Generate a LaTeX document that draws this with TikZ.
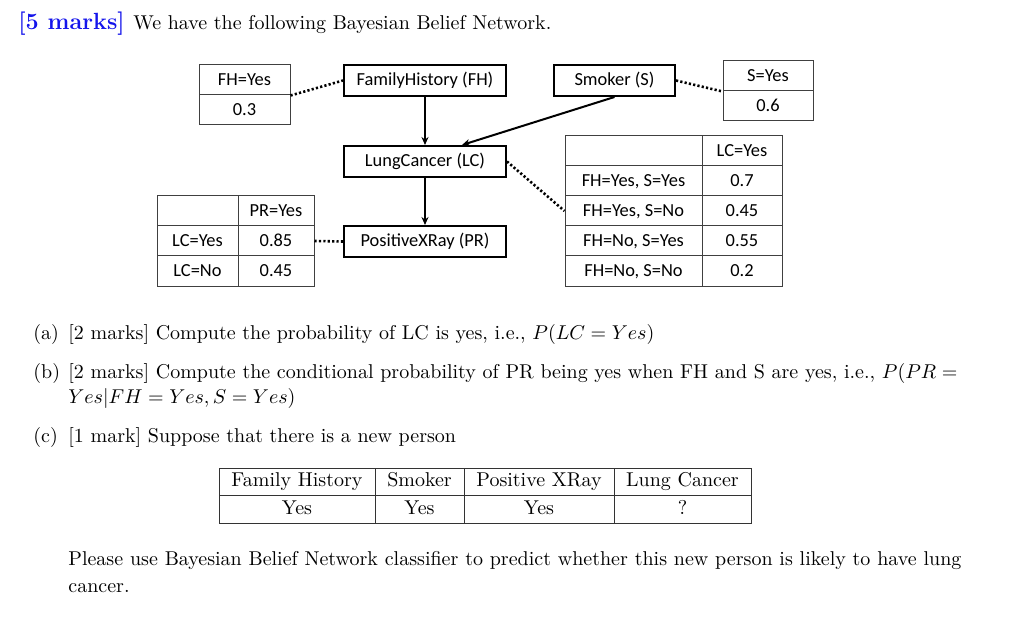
\documentclass[tikz,border=0pt]{standalone}
\usepackage{fontspec}
\newfontfamily\carlito{Carlito}
\usetikzlibrary{arrows.meta}
\definecolor{markblue}{RGB}{20,20,235}
\begin{document}
\begin{tikzpicture}[x=0.5pt,y=-0.5pt,
  txt/.style={anchor=base west,inner sep=0pt,font=\fontsize{10pt}{13pt}\selectfont},
  netbox/.style={draw,line width=1pt,inner sep=0pt,minimum height=15.5pt,text height=7.4pt,text depth=2pt,font=\carlito\fontsize{9.2pt}{11pt}\selectfont},
  cell/.style={draw=black!75,line width=0.5pt,inner sep=0pt,minimum height=15pt,text height=7.6pt,text depth=2pt,font=\carlito\fontsize{9.2pt}{11pt}\selectfont},
  tcell/.style={draw=black!80,line width=0.5pt,inner sep=0pt,text height=7.8pt,text depth=2.4pt,font=\fontsize{10pt}{13pt}\selectfont},
  arr/.style={line width=1pt,-{Stealth[length=4pt,width=3.5pt]}},
  dots/.style={line width=1.3pt,dash pattern=on 1.1pt off 1.1pt}
]
\useasboundingbox (0,0) rectangle (1024,626);
% title
\node[anchor=base west,inner sep=0pt,font=\fontsize{11.7pt}{14pt}\selectfont\bfseries,text=markblue] (t0) at (18,30) {[5 marks]};
\node[txt] (t1) at (133,30) {We have the following Bayesian Belief Network.};
% network nodes
\node[netbox,minimum width=81pt] (fh) at (425,80.5) {FamilyHistory (FH)};
\node[netbox,minimum width=60.5pt] (sm) at (614.5,80.5) {Smoker (S)};
\node[netbox,minimum width=81pt] (lc) at (425,161.5) {LungCancer (LC)};
\node[netbox,minimum width=81pt] (pr) at (425,241.5) {PositiveXRay (PR)};
% FH table
\node[cell,minimum width=45.5pt] (fha) at (244.5,80) {FH=Yes};
\node[cell,minimum width=45.5pt] (fhb) at (244.5,110) {0.3};
% S table
\node[cell,minimum width=45pt] (sa) at (768,76) {S=Yes};
\node[cell,minimum width=45pt] (sb) at (768,106) {0.6};
% PR table
\node[cell,minimum width=40.5pt] (pr1a) at (197.5,211) {};
\node[cell,minimum width=38pt] (pr1b) at (276,211) {PR=Yes};
\node[cell,minimum width=40.5pt] (pr2a) at (197.5,241) {LC=Yes};
\node[cell,minimum width=38pt] (pr2b) at (276,241) {0.85};
\node[cell,minimum width=40.5pt] (pr3a) at (197.5,271) {LC=No};
\node[cell,minimum width=38pt] (pr3b) at (276,271) {0.45};
% LC table
\node[cell,minimum width=68.5pt] (lc1a) at (633.5,151) {};
\node[cell,minimum width=40pt] (lc1b) at (742,151) {LC=Yes};
\node[cell,minimum width=68.5pt] (lc2a) at (633.5,181) {FH=Yes, S=Yes};
\node[cell,minimum width=40pt] (lc2b) at (742,181) {0.7};
\node[cell,minimum width=68.5pt] (lc3a) at (633.5,211) {FH=Yes, S=No};
\node[cell,minimum width=40pt] (lc3b) at (742,211) {0.45};
\node[cell,minimum width=68.5pt] (lc4a) at (633.5,241) {FH=No, S=Yes};
\node[cell,minimum width=40pt] (lc4b) at (742,241) {0.55};
\node[cell,minimum width=68.5pt] (lc5a) at (633.5,271) {FH=No, S=No};
\node[cell,minimum width=40pt] (lc5b) at (742,271) {0.2};
% arrows
\draw[arr] (fh.south) -- (lc.north);
\draw[arr] (sm.south) -- ([xshift=18.5pt]lc.north);
\draw[arr] (lc.south) -- (pr.north);
% dotted links
\draw[dots] (fha.south east) -- (fh.west);
\draw[dots] (sm.east) -- (sa.south west);
\draw[dots] (lc.east) -- (lc3a.west);
\draw[dots] (pr2b.east) -- (pr.west);
% questions
\node[txt] (qa0) at (33,339) {(a)};
\node[txt] (qa1) at (68,339) {[2 marks] Compute the probability of LC is yes, i.e., $P(LC = Yes)$};
\node[txt] (qb0) at (33,378) {(b)};
\node[txt] (qb1) at (68,378) {\makebox[444.5pt][s]{[2 marks] Compute the conditional probability of PR being yes when FH and S are yes, i.e., $P(PR =$}};
\node[txt] (qb2) at (68,403) {$Yes|FH = Yes, S = Yes)$};
\node[txt] (qc0) at (33,442) {(c)};
\node[txt] (qc1) at (68,442) {[1 mark] Suppose that there is a new person};
% bottom table
\node[tcell,minimum width=78pt,minimum height=13.5pt] (h1) at (297,481.5) {Family History};
\node[tcell,minimum width=44.5pt,minimum height=13.5pt] (h2) at (419.5,481.5) {Smoker};
\node[tcell,minimum width=75pt,minimum height=13.5pt] (h3) at (539,481.5) {Positive XRay};
\node[tcell,minimum width=68.5pt,minimum height=13.5pt] (h4) at (682.5,481.5) {Lung Cancer};
\node[tcell,minimum width=78pt,minimum height=14pt] (v1) at (297,509) {Yes};
\node[tcell,minimum width=44.5pt,minimum height=14pt] (v2) at (419.5,509) {Yes};
\node[tcell,minimum width=75pt,minimum height=14pt] (v3) at (539,509) {Yes};
\node[tcell,minimum width=68.5pt,minimum height=14pt] (v4) at (682.5,509) {?};
% final
\node[txt] (p1) at (68,565) {\makebox[446.5pt][s]{Please use Bayesian Belief Network classifier to predict whether this new person is likely to have lung}};
\node[txt] (p2) at (68,592) {cancer.};
\end{tikzpicture}
\end{document}
